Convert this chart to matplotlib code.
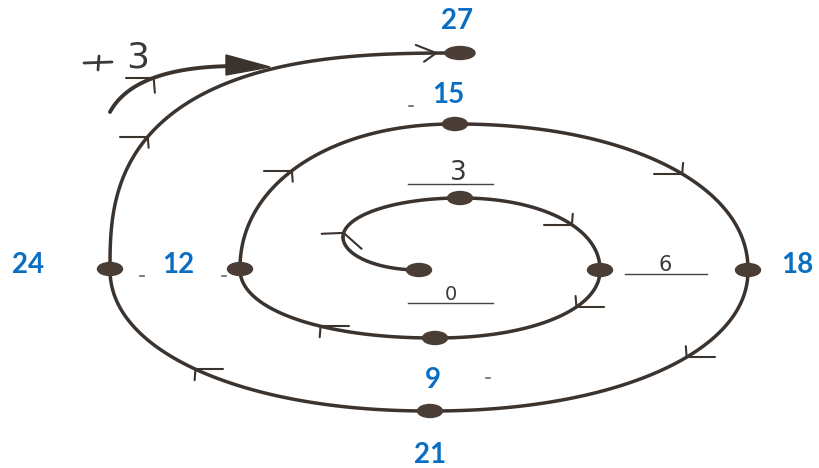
import numpy as np
import matplotlib
matplotlib.use("Agg")
import matplotlib.pyplot as plt
from matplotlib.patches import Ellipse, Polygon

# ---- data ----
values = [0, 3, 6, 9, 12, 15, 18, 21, 24, 27]
# node positions on the hand-drawn spiral (drawing units = pixels)
node_x = [419, 460, 600, 435, 240, 455, 748, 430, 110, 460]
node_y = [270, 198, 270, 338, 269, 124, 270, 411, 269, 53]
# which nodes sit on top/bottom (True) versus left/right side (False)
node_vertical = [True, True, False, True, False, True, False, True, False, True]
# extra waypoint between 0 and 3 (leftmost point of the inner hook)
hook_x, hook_y = 343, 237
# blue labels
blue_values = [9, 12, 15, 18, 21, 24, 27]
blue_pos = {9: (433, 380), 12: (178, 265), 15: (448, 95), 18: (797, 265),
            21: (430, 455), 24: (28, 265), 27: (457, 21)}
# handwritten labels
hand_labels = ["3", "0", "6"]
hand_pos = {"3": (458, 173), "0": (451, 294), "6": (665, 265)}
hand_lines = {"3": (408, 493, 184), "0": (408, 493, 303), "6": (625, 707, 274)}
# chevrons: (segment index, fraction along segment, style)
chevrons = [(1, 0.07, "sym"), (2, 0.58, "barb"), (3, 0.36, "barb"), (4, 0.39, "barb"),
            (5, 0.47, "barb"), (6, 0.56, "barb"), (7, 0.42, "barb"), (8, 0.52, "barb"),
            (9, 0.35, "barb"), (9, 0.985, "tip")]

LINE = "#3b332e"
DOT = "#4a3d35"
BLUE = "#0A6FC2"
INK = "#3a3a3a"

fig = plt.figure(figsize=(8.2, 4.68), dpi=100)
ax = fig.add_axes([0, 0, 1, 1])
ax.set_xlim(0, 820)
ax.set_ylim(468, 0)
ax.axis("off")


def quarter(p0, p1, v0, p=1.0, n=120):
    """Quarter ellipse from p0 to p1; v0 True if p0 is a top/bottom point."""
    (x0, y0), (x1, y1) = p0, p1
    t = np.linspace(0, 1, n) * np.pi / 2
    if v0:
        cx, cy = x0, y1
        xs = cx + (x1 - cx) * np.sin(t) ** p
        ys = cy + (y0 - cy) * np.cos(t) ** p
    else:
        cx, cy = x1, y0
        xs = cx + (x0 - cx) * np.cos(t) ** p
        ys = cy + (y1 - cy) * np.sin(t) ** p
    return xs, ys


segments = []
segments.append(quarter((node_x[0], node_y[0]), (hook_x, hook_y), True))
segments.append(quarter((hook_x, hook_y), (node_x[1], node_y[1]), False))
for i in range(1, len(values) - 1):
    pexp = 0.74 if i == len(values) - 2 else 0.95
    segments.append(quarter((node_x[i], node_y[i]), (node_x[i + 1], node_y[i + 1]),
                            node_vertical[i], p=pexp))

for xs, ys in segments:
    ax.plot(xs, ys, color=LINE, lw=2.5, solid_capstyle="round", zorder=2)


def chevron(xs, ys, frac, style="barb", short=11):
    n = len(xs)
    k = int(np.clip(frac * (n - 1), 1, n - 2))
    vx, vy = xs[k], ys[k]
    dx, dy = xs[k + 1] - xs[k - 1], ys[k + 1] - ys[k - 1]
    b = np.arctan2(-dy, -dx)  # backwards direction
    if style == "sym":
        arms = [(b + np.deg2rad(70), 22), (b - np.deg2rad(66), 24)]
    elif style == "tip":
        arms = [(b + np.deg2rad(22), 22), (b - np.deg2rad(35), 15)]
    else:
        L = np.pi if np.cos(b) < 0 else 0.0
        side = np.sign(np.sin(b - L)) or 1.0
        arms = [(L, 28), (L + side * np.pi / 2 * 1.05, short)]
    for a, ln in arms:
        ax.plot([vx, vx + ln * np.cos(a)], [vy, vy + ln * np.sin(a)],
                color=LINE, lw=1.5, solid_capstyle="round", zorder=3)


for seg, frac, style in chevrons:
    xs, ys = segments[seg]
    chevron(xs, ys, frac, style)

# node dots
for i, v in enumerate(values):
    w, h = (30, 13) if v == 27 else (25, 13)
    ax.add_patch(Ellipse((node_x[i], node_y[i]), w, h, color=DOT, zorder=4))

# blue labels
for v in blue_values:
    x, y = blue_pos[v]
    ax.text(x, y, str(v), color=BLUE, fontsize=20, fontweight="bold",
            ha="center", va="center", family="Lato", zorder=5)

# handwritten labels with underline
for t in hand_labels:
    x, y = hand_pos[t]
    ax.text(x, y, t, color=INK, fontsize={"3": 19, "0": 14, "6": 15}[t],
            ha="center", va="center", family="DejaVu Sans", zorder=5)
    x0, x1, yl = hand_lines[t]
    ax.plot([x0, x1], [yl, yl], color="#444444", lw=1.0, zorder=3)

# scanner specks
for sx, sy in [(142, 276), (224, 276), (411, 106), (488, 378)]:
    ax.plot([sx - 2, sx + 2], [sy, sy], color="#666666", lw=1.2, zorder=1)

# "+3" curved arrow
ax.plot([84, 112], [63, 62], color=INK, lw=2.0, solid_capstyle="round")
ax.plot([99, 98], [56, 70], color=INK, lw=2.0, solid_capstyle="round")
ax.text(138, 58, "3", color=INK, fontsize=26, ha="center", va="center",
        family="DejaVu Sans", zorder=5)
tt = np.linspace(0, 1, 80)
P0, P1, P2 = np.array([110, 112]), np.array([135, 66]), np.array([238, 66])
bez = (1 - tt)[:, None] ** 2 * P0 + 2 * ((1 - tt) * tt)[:, None] * P1 + tt[:, None] ** 2 * P2
ax.plot(bez[:, 0], bez[:, 1], color=LINE, lw=2.8, solid_capstyle="round", zorder=2)
ax.add_patch(Polygon([[226, 55], [270, 67], [226, 75]], closed=True, color=LINE, zorder=3))
chevron(bez[:, 0], bez[:, 1], 0.5, "barb", short=15)

fig.savefig("out.png", dpi=100)
